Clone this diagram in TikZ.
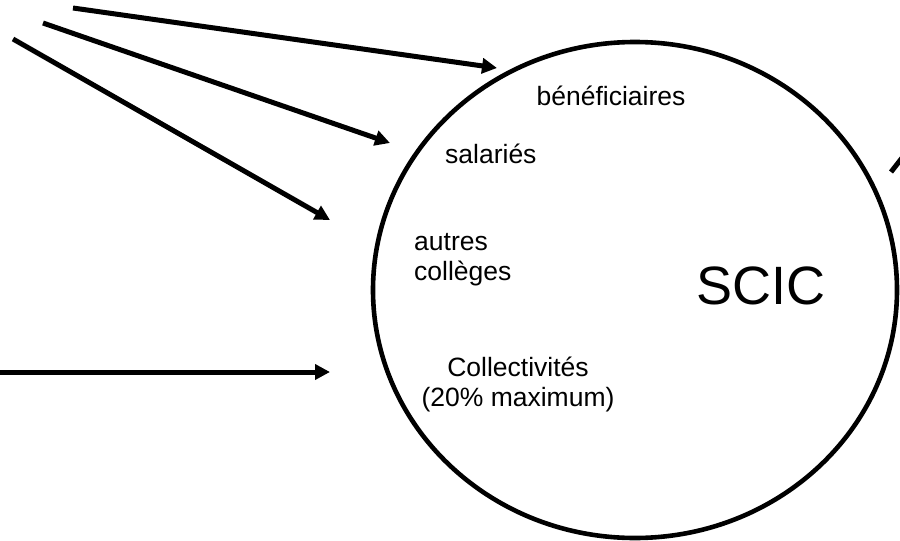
\documentclass[tikz,border=0pt]{standalone}
\usepackage{fontspec}
\setmainfont{Liberation Sans}
\usetikzlibrary{arrows.meta}

\begin{document}
\begin{tikzpicture}[x=1pt,y=-1pt]
		\def\lw{5pt}
		\tikzset{fleche/.style={line width=\lw,-{Triangle[length=15pt,width=15pt]}},
			lbl/.style={inner sep=0pt,font=\fontsize{26.5}{30}\selectfont}}
		\useasboundingbox (0,0) rectangle (900,541);
		\clip (0,0) rectangle (900,541);
		\draw [line width=4.6pt] (635,290) ellipse [x radius=262pt, y radius=248pt];
		\node [lbl,anchor=base] (benef) at (611,105) {bénéficiaires};
		\node [lbl,anchor=base west] (sal) at (445,163) {salariés};
		\node [lbl,anchor=base west,align=left] (autres) at (414,280) {autres\\collèges};
		\node [lbl,anchor=base,align=center] (coll) at (518,406) {Collectivités\\(20\% maximum)};
		\node [inner sep=0pt,anchor=base,font=\fontsize{54}{60}\selectfont] (scic) at (761,304) {SCIC};
		\coordinate (s1) at (73,8);
		\coordinate (s2) at (43,23);
		\coordinate (s3) at (13,39);
		\coordinate (s4) at (0,372);
		\coordinate (e1) at (497,68);
		\coordinate (e2) at (390,143);
		\coordinate (e3) at (330,220);
		\coordinate (e4) at (330,372);
		\coordinate (d1) at (891,172);
		\coordinate (d2) at (916,140);
		\foreach \i in {1,...,4}
			\draw [fleche] (s\i) -- (e\i);
		\draw [line width=\lw] (d1) -- (d2);
	\end{tikzpicture}
\end{document}
